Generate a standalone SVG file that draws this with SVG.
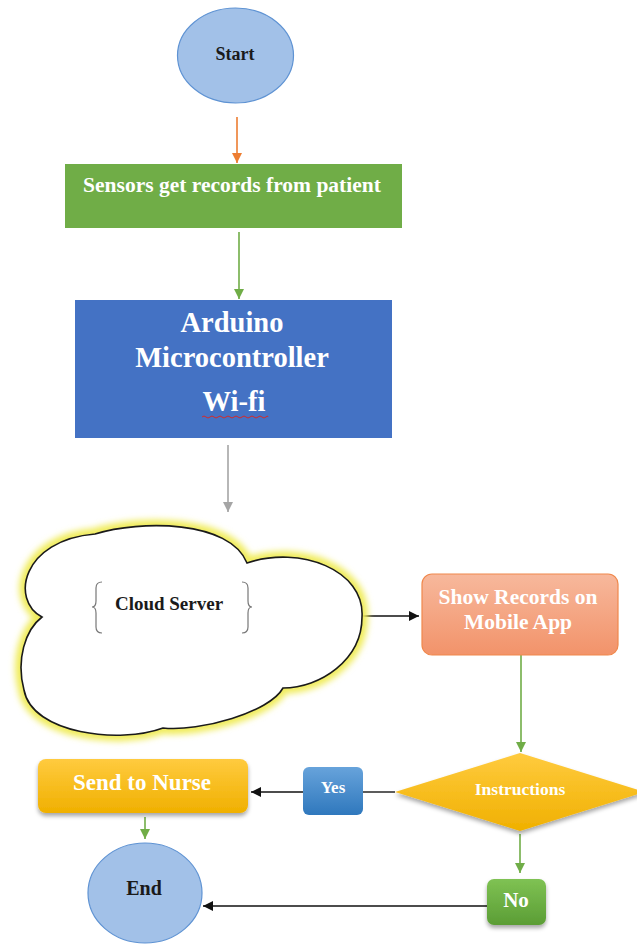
<svg xmlns="http://www.w3.org/2000/svg" width="637" height="944" viewBox="0 0 637 944">
<style>
  .t { font-family: 'Liberation Serif', 'DejaVu Serif', serif; font-weight: 700; text-anchor: middle; }
  .w { fill: #ffffff; }
  .k { fill: #1a1a1a; }
  .circ { fill: #a2c1e8; stroke: #5f93d3; stroke-width: 1.2; }
  .conn { fill: none; stroke-width: 1.6; }
</style>
<defs>
  <marker id="aOrange" markerUnits="userSpaceOnUse" markerWidth="12" markerHeight="12" refX="10" refY="5" orient="auto"><path d="M0,0 L10,5 L0,10 Z" fill="#ed7d31"/></marker>
  <marker id="aGreen" markerUnits="userSpaceOnUse" markerWidth="12" markerHeight="12" refX="10" refY="5" orient="auto"><path d="M0,0 L10,5 L0,10 Z" fill="#70ad47"/></marker>
  <marker id="aGray" markerUnits="userSpaceOnUse" markerWidth="12" markerHeight="12" refX="10" refY="5" orient="auto"><path d="M0,0 L10,5 L0,10 Z" fill="#a5a5a5"/></marker>
  <marker id="aBlack" markerUnits="userSpaceOnUse" markerWidth="12" markerHeight="12" refX="10" refY="5" orient="auto"><path d="M0,0 L10,5 L0,10 Z" fill="#111111"/></marker>
  <linearGradient id="gOrange" x1="0" y1="0" x2="0" y2="1"><stop offset="0" stop-color="#f7b89c"/><stop offset="1" stop-color="#f2936a"/></linearGradient>
  <linearGradient id="gGold" x1="0" y1="0" x2="0" y2="1"><stop offset="0" stop-color="#ffcb3f"/><stop offset="1" stop-color="#f0b000"/></linearGradient>
  <linearGradient id="gBlue" x1="0" y1="0" x2="0" y2="1"><stop offset="0" stop-color="#67a3db"/><stop offset="1" stop-color="#2f78bd"/></linearGradient>
  <linearGradient id="gGreen" x1="0" y1="0" x2="0" y2="1"><stop offset="0" stop-color="#7fc253"/><stop offset="1" stop-color="#5b9d35"/></linearGradient>
  <filter id="shadow" x="-20%" y="-20%" width="140%" height="150%"><feDropShadow dx="0" dy="3" stdDeviation="2" flood-color="#000" flood-opacity="0.35"/></filter>
  <filter id="glow" x="-10%" y="-10%" width="120%" height="120%"><feGaussianBlur stdDeviation="3"/></filter>
</defs>
<rect x="0" y="0" width="637" height="944" fill="#ffffff"/>

<g id="connectors">
  <line class="conn" x1="237" y1="117" x2="237" y2="163" stroke="#ed7d31" marker-end="url(#aOrange)"/>
  <line class="conn" x1="239" y1="232" x2="239" y2="299" stroke="#70ad47" stroke-width="2" marker-end="url(#aGreen)"/>
  <line class="conn" x1="228" y1="445" x2="228" y2="512" stroke="#a5a5a5" marker-end="url(#aGray)"/>
  <line class="conn" x1="362" y1="616" x2="419" y2="616" stroke="#111111" marker-end="url(#aBlack)"/>
  <line class="conn" x1="521" y1="653" x2="521" y2="752" stroke="#70ad47" stroke-width="2" marker-end="url(#aGreen)"/>
  <line class="conn" x1="395" y1="792" x2="363" y2="792" stroke="#333333"/>
  <line class="conn" x1="303" y1="792" x2="251" y2="792" stroke="#111111" marker-end="url(#aBlack)"/>
  <line class="conn" x1="520" y1="834" x2="520" y2="873" stroke="#70ad47" stroke-width="2" marker-end="url(#aGreen)"/>
  <line class="conn" x1="487" y1="906" x2="203" y2="906" stroke="#111111" marker-end="url(#aBlack)"/>
  <line class="conn" x1="145" y1="817" x2="145" y2="839" stroke="#70ad47" stroke-width="2" marker-end="url(#aGreen)"/>
</g>

<g id="start">
  <ellipse class="circ" cx="235.5" cy="55.5" rx="58" ry="47.5"/>
  <text class="t k" x="235" y="60" font-size="18">Start</text>
</g>

<g id="sensors">
  <rect x="65" y="164" width="337" height="64" fill="#70ad47"/>
  <text class="t w" x="232" y="192" font-size="21.5">Sensors get records from patient</text>
</g>

<g id="arduino">
  <rect x="75" y="300" width="317" height="138" fill="#4472c4"/>
  <text class="t w" x="232" y="332" font-size="28.5">Arduino</text>
  <text class="t w" x="232" y="367" font-size="28.5">Microcontroller</text>
  <text class="t w" x="234" y="411" font-size="28.5">Wi-fi</text>
  <path d="M202,417 q2,-2 4,0 t4,0 t4,0 t4,0 t4,0 t4,0 t4,0 t4,0 t4,0 t4,0 t4,0 t4,0 t4,0 t4,0 t4,0 t4,0 t2,0" fill="none" stroke="#d42a2a" stroke-width="1"/>
</g>

<g id="cloud">
  <path d="M 42 617 C 10 600, 22 540, 95 534 C 140 520, 230 520, 247 563 C 300 545, 365 570, 362 617 C 362 660, 320 688, 283 688 C 270 712, 200 732, 163 728 C 120 744, 32 734, 24 690 C 16 660, 25 630, 42 617 Z" fill="none" stroke="#f0ec5c" stroke-width="12" filter="url(#glow)"/>
  <path d="M 42 617 C 10 600, 22 540, 95 534 C 140 520, 230 520, 247 563 C 300 545, 365 570, 362 617 C 362 660, 320 688, 283 688 C 270 712, 200 732, 163 728 C 120 744, 32 734, 24 690 C 16 660, 25 630, 42 617 Z" fill="#ffffff" stroke="#1a1a1a" stroke-width="1.6"/>
  <path d="M102,582 Q96,582 96,588 L96,601 Q96,607 92,607 Q96,607 96,613 L96,627 Q96,633 102,633" fill="none" stroke="#777777" stroke-width="1.2"/>
  <path d="M242,582 Q248,582 248,588 L248,601 Q248,607 252,607 Q248,607 248,613 L248,627 Q248,633 242,633" fill="none" stroke="#777777" stroke-width="1.2"/>
  <text class="t k" x="169" y="610" font-size="19">Cloud Server</text>
</g>

<g id="show-records">
  <rect x="422" y="574" width="196" height="81" rx="10" fill="url(#gOrange)" stroke="#f0884c" stroke-width="1.2"/>
  <text class="t w" x="518" y="604" font-size="21.5">Show Records on</text>
  <text class="t w" x="518" y="629" font-size="21.5">Mobile App</text>
</g>

<g id="instructions">
  <polygon points="520,753 645,792 520,831 395,792" fill="url(#gGold)" filter="url(#shadow)"/>
  <text class="t w" x="520" y="795" font-size="17.5">Instructions</text>
</g>

<g id="yes">
  <rect x="303" y="767" width="60" height="48" rx="6" fill="url(#gBlue)"/>
  <text class="t w" x="333" y="793" font-size="17">Yes</text>
</g>

<g id="send-to-nurse">
  <rect x="38" y="759" width="210" height="54" rx="8" fill="url(#gGold)" filter="url(#shadow)"/>
  <text class="t w" x="142" y="790" font-size="23">Send to Nurse</text>
</g>

<g id="no">
  <rect x="487" y="879" width="59" height="46" rx="7" fill="url(#gGreen)" filter="url(#shadow)"/>
  <text class="t w" x="516" y="907" font-size="21">No</text>
</g>

<g id="end">
  <ellipse class="circ" cx="145" cy="893" rx="57" ry="50"/>
  <text class="t k" x="144" y="895" font-size="20">End</text>
</g>
</svg>
